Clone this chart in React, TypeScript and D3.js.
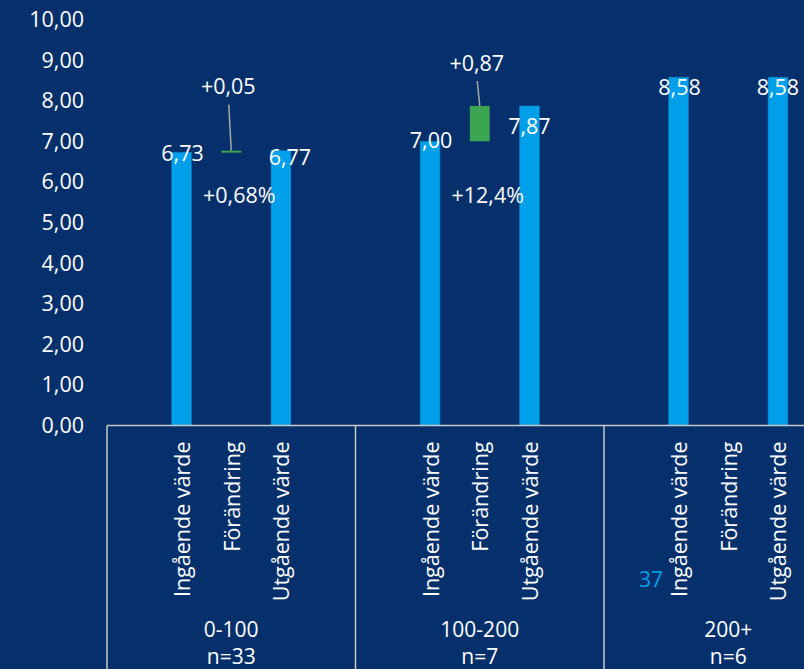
import * as React from 'react';
import * as d3 from 'd3';

// data
const groups = ['0-100', '100-200', '200+'];
const groupCounts = ['n=33', 'n=7', 'n=6'];
const subCategories = ['Ingående värde', 'Förändring', 'Utgående värde'];
const startValues = [6.73, 7.00, 8.58];
const endValues = [6.77, 7.87, 8.58];
const changeLabels = ['+0,05', '+0,87', ''];
const percentLabels = ['+0,68%', '+12,4%', ''];
const yTicks = [0, 1, 2, 3, 4, 5, 6, 7, 8, 9, 10];
const strayLabel = '37';

// label nudges (px), Excel moved these around to avoid overlaps
const startLabelDy = [1, -1, 10];
const endLabelDy = [7, 20, 10];
const endLabelDx = [9, 0, 0];
const changeLabelRise = [64, 43, 0];

const W = 804;
const H = 669;
const BG = '#06306b';
const BLUE = '#009fea';
const GREEN = '#3ba552';
const FONT = '"Open Sans", sans-serif';
const FS = 21.5;

const locale = d3.formatLocale({ decimal: ',', thousands: ' ', grouping: [3], currency: ['', ' kr'] });
const fmt = locale.format('.2f');

export default function App() {
    const svgRef = React.useRef<SVGSVGElement>(null);

    React.useEffect(() => {
        const svg = d3.select(svgRef.current);
        svg.selectAll('*').remove();

        const left = 107;
        const groupW = 248.5;
        const axisY = 425.5;

        const yScale = d3.scaleLinear().domain([0, 10]).range([axisY, 19.5]);
        const groupScale = d3.scaleBand<string>()
            .domain(groups)
            .range([left, left + groupW * groups.length]);
        // 5 slots per group, outer ones stay empty
        const slotScale = d3.scaleBand<number>()
            .domain([0, 1, 2, 3, 4])
            .range([0, groupScale.bandwidth()]);
        const barW = slotScale.bandwidth() * 0.4;
        const cx = (g: string, sub: number) => (groupScale(g) as number) + (slotScale(sub + 1) as number) + slotScale.bandwidth() / 2;

        svg.append('rect').attr('width', W).attr('height', H).attr('fill', BG);

        // y axis labels
        svg.append('g').selectAll('text')
            .data(yTicks)
            .enter().append('text')
            .attr('x', 84)
            .attr('y', (d) => yScale(d))
            .attr('dy', '0.35em')
            .attr('text-anchor', 'end')
            .attr('fill', '#ffffff')
            .attr('font-family', FONT)
            .attr('font-size', FS)
            .text((d) => fmt(d));

        const g = svg.append('g');

        // start bars
        g.selectAll('.start')
            .data(groups)
            .enter().append('rect')
            .attr('class', 'start')
            .attr('x', (d) => cx(d, 0) - barW / 2)
            .attr('width', barW)
            .attr('y', (d, i) => yScale(startValues[i]))
            .attr('height', (d, i) => axisY - yScale(startValues[i]))
            .attr('fill', BLUE)
            .attr('stroke', '#0a78c0')
            .attr('stroke-width', 0.6);

        // end bars
        g.selectAll('.end')
            .data(groups)
            .enter().append('rect')
            .attr('class', 'end')
            .attr('x', (d) => cx(d, 2) - barW / 2)
            .attr('width', barW)
            .attr('y', (d, i) => yScale(endValues[i]))
            .attr('height', (d, i) => axisY - yScale(endValues[i]))
            .attr('fill', BLUE)
            .attr('stroke', '#0a78c0')
            .attr('stroke-width', 0.6);

        // change bars (floating)
        const changed = groups.filter((d, i) => endValues[i] !== startValues[i]);
        g.selectAll('.change')
            .data(changed)
            .enter().append('rect')
            .attr('class', 'change')
            .attr('x', (d) => cx(d, 1) - barW / 2)
            .attr('width', barW)
            .attr('y', (d) => yScale(endValues[groups.indexOf(d)]))
            .attr('height', (d) => {
                const i = groups.indexOf(d);
                return Math.max(2, yScale(startValues[i]) - yScale(endValues[i]));
            })
            .attr('fill', GREEN);

        // leader lines + change labels
        changed.forEach((d) => {
            const i = groups.indexOf(d);
            const x = cx(d, 1);
            const top = yScale(endValues[i]);
            const labelY = top - changeLabelRise[i];
            g.append('line')
                .attr('x1', x - 2.5)
                .attr('y1', labelY + 18)
                .attr('x2', x)
                .attr('y2', top)
                .attr('stroke', '#a6a6a6')
                .attr('stroke-width', 1.5);
            g.append('text')
                .attr('x', x - 3)
                .attr('y', labelY)
                .attr('dy', '0.35em')
                .attr('text-anchor', 'middle')
                .attr('fill', '#ffffff')
                .attr('font-family', FONT)
                .attr('font-size', FS)
                .text(changeLabels[i]);
            g.append('text')
                .attr('x', x + 8)
                .attr('y', 195)
                .attr('dy', '0.35em')
                .attr('text-anchor', 'middle')
                .attr('fill', '#ffffff')
                .attr('font-family', FONT)
                .attr('font-size', FS)
                .text(percentLabels[i]);
        });

        // value labels
        groups.forEach((d, i) => {
            g.append('text')
                .attr('x', cx(d, 0) + 1)
                .attr('y', yScale(startValues[i]) + startLabelDy[i])
                .attr('dy', '0.35em')
                .attr('text-anchor', 'middle')
                .attr('fill', '#ffffff')
                .attr('font-family', FONT)
                .attr('font-size', FS)
                .text(fmt(startValues[i]));
            g.append('text')
                .attr('x', cx(d, 2) + endLabelDx[i])
                .attr('y', yScale(endValues[i]) + endLabelDy[i])
                .attr('dy', '0.35em')
                .attr('text-anchor', 'middle')
                .attr('fill', '#ffffff')
                .attr('font-family', FONT)
                .attr('font-size', FS)
                .text(fmt(endValues[i]));
        });

        // category axis box
        const axis = svg.append('g')
            .attr('stroke', '#c9c9c9')
            .attr('stroke-width', 1.5)
            .attr('fill', 'none');
        axis.append('line').attr('x1', left).attr('x2', W).attr('y1', axisY).attr('y2', axisY);
        groups.forEach((d) => {
            const x = groupScale(d) as number;
            axis.append('line').attr('x1', x).attr('x2', x).attr('y1', axisY).attr('y2', H);
        });

        // rotated sub category labels
        groups.forEach((d) => {
            subCategories.forEach((s, j) => {
                const x = cx(d, j) + 1;
                svg.append('text')
                    .attr('transform', 'translate(' + x + ',' + (axisY + 16) + ') rotate(-90)')
                    .attr('dy', '0.35em')
                    .attr('text-anchor', 'end')
                    .attr('fill', '#ffffff')
                    .attr('font-family', FONT)
                    .attr('font-size', FS)
                    .text(s);
            });
            const gx = (groupScale(d) as number) + groupScale.bandwidth() / 2;
            const i = groups.indexOf(d);
            svg.append('text')
                .attr('x', gx)
                .attr('y', 630)
                .attr('dy', '0.35em')
                .attr('text-anchor', 'middle')
                .attr('fill', '#ffffff')
                .attr('font-family', FONT)
                .attr('font-size', 21)
                .text(d);
            svg.append('text')
                .attr('x', gx)
                .attr('y', 657)
                .attr('dy', '0.35em')
                .attr('text-anchor', 'middle')
                .attr('fill', '#ffffff')
                .attr('font-family', FONT)
                .attr('font-size', 21)
                .text(groupCounts[i]);
        });

        // stray data label left in the original
        svg.append('text')
            .attr('x', 663)
            .attr('y', 580)
            .attr('dy', '0.35em')
            .attr('text-anchor', 'end')
            .attr('fill', BLUE)
            .attr('font-family', FONT)
            .attr('font-size', 21)
            .text(strayLabel);
    }, []);

    return (
        <svg ref={svgRef} width={W} height={H} style={{ position: 'absolute', left: 0, top: 0 }}></svg>
    );
}
